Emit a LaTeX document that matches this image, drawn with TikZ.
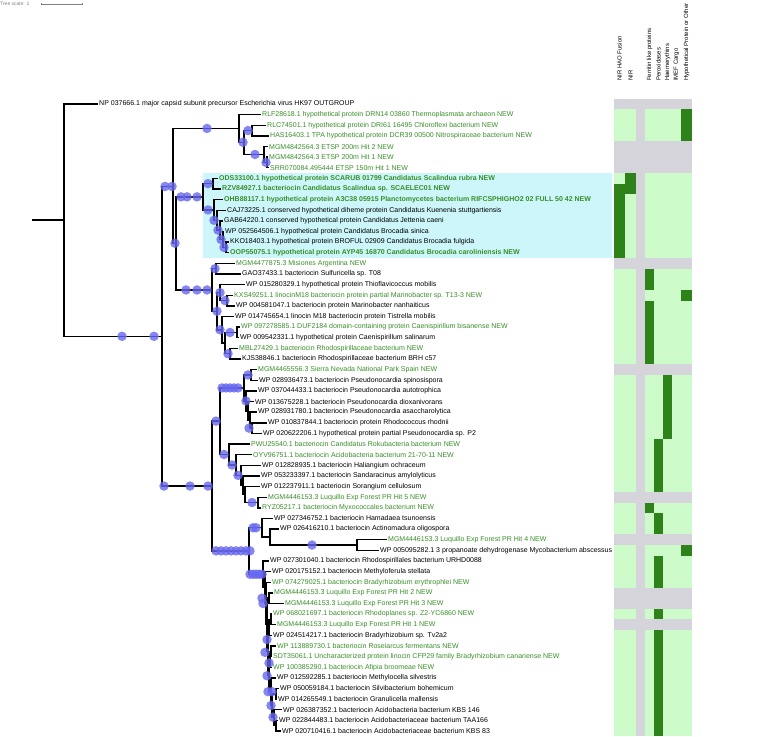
\documentclass[tikz,border=0pt]{standalone}
\usepackage{fontspec}
\setmainfont{Liberation Sans}
\definecolor{newgreen}{RGB}{56,142,40}
\definecolor{bootblue}{RGB}{104,104,240}
\definecolor{hilite}{RGB}{204,246,250}
\definecolor{cellon}{RGB}{45,130,25}
\definecolor{celloff}{RGB}{204,250,200}
\definecolor{cellnone}{RGB}{212,212,218}
\tikzset{
branch/.style={line width=1.4pt}, % tree edges
leaf/.style={anchor=west, inner sep=1pt, font=\fontsize{7}{8}\selectfont},
newseq/.style={leaf, text=newgreen}, % sequences new to this study
fusedseq/.style={newseq, font=\fontsize{7}{8}\selectfont\bfseries},
boot/.style={circle, fill=bootblue, fill opacity=.8, inner sep=0pt, minimum size=9.5pt},
colhead/.style={rotate=90, anchor=west, inner sep=0pt, font=\fontsize{6}{7}\selectfont},
}
\newcommand{\twig}[2]{\draw[branch] (#1) |- (#2);}

\begin{document}
\begin{tikzpicture}[x=1pt, y=-10.627pt]
\useasboundingbox (0,-9.786) rectangle (759,59.565);

% scale
\node[anchor=west, inner sep=0pt, text=gray, font=\fontsize{5}{6}\selectfont] (scaletxt) at (0,-9.41) {Tree scale: 1};
\coordinate (sbl) at (41,-9.41);
\coordinate (sbr) at (82,-9.41);
\draw[gray, thin] (sbl) -- (sbr);
\draw[gray, thin] (sbl) ++(0,-0.08) -- ++(0,0.16) (sbr) ++(0,-0.08) -- ++(0,0.16);

% highlighted clade
\fill[hilite] (203,6.5) rectangle (612,14.5);

% heatmap
\fill[celloff] (614,0.5) rectangle (692,59.5);
\foreach \r in {0,4,5,6,15,25,37,41,46,47,49}
  \fill[cellnone] (614,\r-0.5) rectangle (692,\r+0.5);
\fill[cellnone] (636,-0.5) rectangle (645,59.5);
\foreach \c/\w/\r in {681/11/1,681/11/2,681/11/3,681/11/18,681/11/42,
  625/11/7,625/11/8,614/11/8,614/11/9,614/11/10,614/11/11,614/11/12,614/11/13,614/11/14,
  645/9/16,645/9/17,645/9/19,645/9/20,645/9/21,645/9/22,645/9/23,645/9/24,645/9/38,
  663/9/26,663/9/27,663/9/28,663/9/29,663/9/30,663/9/31,
  654/9/32,654/9/33,654/9/34,654/9/35,654/9/36,654/9/39,654/9/40}
  \fill[cellon] (\c,\r-0.5) rectangle (\c+\w,\r+0.5);
\foreach \r in {43,44,45,48,50,51,52,53,54,55,56,57,58,59}
  \fill[cellon] (654,\r-0.5) rectangle (663,\r+0.5);
\node[colhead] (hfus) at (619.5,-2.16) {NIR HAO Fusion};
\node[colhead] (hnir) at (630.5,-2.16) {NIR};
\node[colhead] (hfer) at (649.5,-2.16) {Ferritin like proteins};
\node[colhead] (hper) at (658.5,-2.16) {Peroxidases};
\node[colhead] (hhae) at (667.5,-2.16) {Haemerythins};
\node[colhead] (himf) at (676.5,-2.16) {IMEF Cargo};
\node[colhead] (hhyp) at (686.5,-2.16) {Hypothetical Protein or Other};

% leaves
\node[leaf] (np) at (98,0) {NP 037666.1 major capsid subunit precursor Escherichia virus HK97 OUTGROUP};
\node[newseq] (rlf) at (261,1) {RLF28618.1 hypothetical protein DRN14 03860 Thermoplasmata archaeon NEW};
\node[newseq] (rlc) at (266,2) {RLC74501.1 hypothetical protein DRI61 16495 Chloroflexi bacterium NEW};
\node[newseq] (has) at (269,3) {HAS16403.1 TPA hypothetical protein DCR39 00500 Nitrospiraceae bacterium NEW};
\node[newseq] (etspa) at (268,4) {MGM4842564.3 ETSP 200m Hit 2 NEW};
\node[newseq] (etspb) at (268,5) {MGM4842564.3 ETSP 200m Hit 1 NEW};
\node[newseq] (srr) at (269,6) {SRR070084.495444 ETSP 150m Hit 1 NEW};
\node[fusedseq] (ods) at (218,7) {ODS33100.1 hypothetical protein SCARUB 01799 Candidatus Scalindua rubra NEW};
\node[fusedseq] (rzv) at (221,8) {RZV84927.1 bacteriocin Candidatus Scalindua sp. SCAELEC01 NEW};
\node[fusedseq] (ohb) at (223,9) {OHB88117.1 hypothetical protein A3C38 05915 Planctomycetes bacterium RIFCSPHIGHO2 02 FULL 50 42 NEW};
\node[leaf] (caj) at (226,10) {CAJ73225.1 conserved hypothetical diheme protein Candidatus Kuenenia stuttgartiensis};
\node[leaf] (gab) at (223,11) {GAB64220.1 conserved hypothetical protein Candidatus Jettenia caeni};
\node[leaf] (wpsin) at (224,12) {WP 052564506.1 hypothetical protein Candidatus Brocadia sinica};
\node[leaf] (kko) at (229,13) {KKO18403.1 hypothetical protein BROFUL 02909 Candidatus Brocadia fulgida};
\node[fusedseq] (oop) at (229,14) {OOP55075.1 hypothetical protein AYP45 16870 Candidatus Brocadia caroliniensis NEW};
\node[newseq] (misio) at (235,15) {MGM4477875.3 Misiones Argentina NEW};
\node[leaf] (gao) at (241,16) {GAO37433.1 bacteriocin Sulfuricella sp. T08};
\node[leaf] (thio) at (245,17) {WP 015280329.1 hypothetical protein Thioflavicoccus mobilis};
\node[newseq] (kxs) at (233,18) {KXS49251.1 linocinM18 bacteriocin protein partial Marinobacter sp. T13-3 NEW};
\node[leaf] (nanh) at (235,19) {WP 004581047.1 bacteriocin protein Marinobacter nanhaiticus};
\node[leaf] (tist) at (234,20) {WP 014745654.1 linocin M18 bacteriocin protein Tistrella mobilis};
\node[newseq] (bisan) at (240,21) {WP 097278585.1 DUF2184 domain-containing protein Caenispirillum bisanense NEW};
\node[leaf] (salin) at (239,22) {WP 009542331.1 hypothetical protein Caenispirillum salinarum};
\node[newseq] (mbl) at (238,23) {MBL27429.1 bacteriocin Rhodospirillaceae bacterium NEW};
\node[leaf] (kjs) at (241,24) {KJS38846.1 bacteriocin Rhodospirillaceae bacterium BRH c57};
\node[newseq] (sierra) at (257,25) {MGM4465556.3 Sierra Nevada National Park Spain NEW};
\node[leaf] (spino) at (258,26) {WP 028936473.1 bacteriocin Pseudonocardia spinosispora};
\node[leaf] (autot) at (257,27) {WP 037044433.1 bacteriocin Pseudonocardia autotrophica};
\node[leaf] (dioxa) at (254,28) {WP 013675228.1 bacteriocin Pseudonocardia dioxanivorans};
\node[leaf] (asacc) at (257,29) {WP 028931780.1 bacteriocin Pseudonocardia asaccharolytica};
\node[leaf] (rhodn) at (267,30) {WP 010837844.1 bacteriocin protein Rhodococcus rhodnii};
\node[leaf] (psp) at (262,31) {WP 020622206.1 hypothetical protein partial Pseudonocardia sp. P2};
\node[newseq] (pwu) at (250,32) {PWU25540.1 bacteriocin Candidatus Rokubacteria bacterium NEW};
\node[newseq] (oyv) at (252,33) {OYV96751.1 bacteriocin Acidobacteria bacterium 21-70-11 NEW};
\node[leaf] (halia) at (261,34) {WP 012828935.1 bacteriocin Haliangium ochraceum};
\node[leaf] (sanda) at (260,35) {WP 053233397.1 bacteriocin Sandaracinus amylolyticus};
\node[leaf] (soran) at (260,36) {WP 012237911.1 bacteriocin Sorangium cellulosum};
\node[newseq] (luqv) at (267,37) {MGM4446153.3 Luquillo Exp Forest PR Hit 5 NEW};
\node[newseq] (ryz) at (261,38) {RYZ05217.1 bacteriocin Myxococcales bacterium NEW};
\node[leaf] (hamad) at (273,39) {WP 027346752.1 bacteriocin Hamadaea tsunoensis};
\node[leaf] (actin) at (279,40) {WP 026416210.1 bacteriocin Actinomadura oligospora};
\node[newseq] (luqiv) at (387,41) {MGM4446153.3 Luquillo Exp Forest PR Hit 4 NEW};
\node[leaf] (mycob) at (379,42) {WP 005095282.1 3 propanoate dehydrogenase Mycobacterium abscessus};
\node[leaf] (urhd) at (269,43) {WP 027301040.1 bacteriocin Rhodospirillales bacterium URHD0088};
\node[leaf] (methf) at (271,44) {WP 020175152.1 bacteriocin Methyloferula stellata};
\node[newseq] (eryth) at (271,45) {WP 074279025.1 bacteriocin Bradyrhizobium erythrophlei NEW};
\node[newseq] (luqii) at (273,46) {MGM4446153.3 Luquillo Exp Forest PR Hit 2 NEW};
\node[newseq] (luqiii) at (284,47) {MGM4446153.3 Luquillo Exp Forest PR Hit 3 NEW};
\node[newseq] (rhodo) at (272,48) {WP 068021697.1 bacteriocin Rhodoplanes sp. Z2-YC6860 NEW};
\node[newseq] (luqi) at (276,49) {MGM4446153.3 Luquillo Exp Forest PR Hit 1 NEW};
\node[leaf] (tvaa) at (272,50) {WP 024514217.1 bacteriocin Bradyrhizobium sp. Tv2a2};
\node[newseq] (rosei) at (276,51) {WP 113889730.1 bacteriocin Roseiarcus fermentans NEW};
\node[newseq] (sdt) at (272,52) {SDT35061.1 Uncharacterized protein linocin CFP29 family Bradyrhizobium canariense NEW};
\node[newseq] (afipia) at (272,53) {WP 100385290.1 bacteriocin Afipia broomeae NEW};
\node[leaf] (msilv) at (276,54) {WP 012592285.1 bacteriocin Methylocella silvestris};
\node[leaf] (silvi) at (279,55) {WP 050059184.1 bacteriocin Silvibacterium bohemicum};
\node[leaf] (granu) at (277,56) {WP 014265549.1 bacteriocin Granulicella mallensis};
\node[leaf] (kbsa) at (282,57) {WP 026387352.1 bacteriocin Acidobacteria bacterium KBS 146};
\node[leaf] (taa) at (278,58) {WP 022844483.1 bacteriocin Acidobacteriaceae bacterium TAA166};
\node[leaf] (kbsb) at (281,59) {WP 020710416.1 bacteriocin Acidobacteriaceae bacterium KBS 83};

% internal nodes
\coordinate (stub) at (32,10.93);
\coordinate (root) at (64,10.93);
\coordinate (n1) at (162,21.86);
\coordinate (g) at (173,7.76);
\coordinate (g2) at (176,13.1);
\coordinate (a) at (239,2.3);
\coordinate (b) at (244,3.6);
\coordinate (c) at (252,2.5);
\coordinate (d) at (264,4.75);
\coordinate (e) at (267,5.5);
\coordinate (s) at (203,8.74);
\coordinate (s1) at (213,7.5);
\coordinate (s2) at (214,9.97);
\coordinate (s3) at (217,10.94);
\coordinate (s4) at (220,11.875);
\coordinate (s5) at (223,12.75);
\coordinate (s6) at (226,13.5);
\coordinate (t) at (212,17.5);
\coordinate (t1) at (216,15.5);
\coordinate (t6) at (217,19.5);
\coordinate (t2) at (220,17.75);
\coordinate (t3) at (227,18.5);
\coordinate (t4) at (222,21.25);
\coordinate (t5) at (225,22.5);
\coordinate (t7) at (237,21.5);
\coordinate (t8) at (230,23.5);
\coordinate (u) at (212,35.95);
\coordinate (ua) at (220,29.84);
\coordinate (ua1) at (244,26.72);
\coordinate (u1) at (251,25.5);
\coordinate (u2) at (246,27.94);
\coordinate (u2b) at (248,28.875);
\coordinate (u2c) at (250,29.75);
\coordinate (u2d) at (252,30.5);
\coordinate (ua2) at (229,32.98);
\coordinate (ua3) at (236,33.97);
\coordinate (ua4) at (241,34.94);
\coordinate (ua5) at (243,35.88);
\coordinate (ua6) at (245,36.75);
\coordinate (ua7) at (258,37.5);
\coordinate (ub) at (249,42.05);
\coordinate (ub1) at (262,39.875);
\coordinate (ub1b) at (270,40.75);
\coordinate (ub1c) at (357,41.5);
\coordinate (ub2) at (263,44.25);
\coordinate (y1) at (265,45.5);
\coordinate (y2) at (266,47);
\coordinate (y3) at (267,49);
\coordinate (y3a) at (269,46.5);
\coordinate (y4) at (268,51.5);
\coordinate (y4a) at (269,49.25);
\coordinate (y4c) at (271,48.5);
\coordinate (y4b) at (269,53.75);
\coordinate (zc) at (270,52.25);
\coordinate (zd) at (271,51.5);
\coordinate (y4d) at (271,55.3);
\coordinate (y4e) at (272,56.6);
\coordinate (y4f) at (276,55.5);
\coordinate (y4g) at (274,57.75);
\coordinate (y4h) at (276,58.5);

% edges
\draw[branch] (stub) -- (root);
\foreach \p/\q in {root/np.west,root/n1,n1/g,n1/u,g/a,g/g2,g2/s,g2/t,
  a/rlf.west,a/b,b/c,b/d,c/rlc.west,c/has.west,d/etspa.west,d/e,e/etspb.west,e/srr.west,
  s/s1,s/s2,s1/ods.west,s1/rzv.west,s2/ohb.west,s2/s3,s3/caj.west,s3/s4,s4/gab.west,s4/s5,
  s5/wpsin.west,s5/s6,s6/kko.west,s6/oop.west,
  t/t1,t/t6,t1/misio.west,t1/gao.west,t6/t2,t6/t4,t2/thio.west,t2/t3,
  t3/kxs.west,t3/nanh.west,t4/tist.west,t4/t5,t5/t7,t5/t8,t7/bisan.west,t7/salin.west,
  t8/mbl.west,t8/kjs.west,
  u/ua,u/ub,ua/ua1,ua/ua2,ua1/u1,ua1/u2,u1/sierra.west,u1/spino.west,u2/autot.west,u2/u2b,
  u2b/dioxa.west,u2b/u2c,u2c/asacc.west,u2c/u2d,u2d/rhodn.west,u2d/psp.west,
  ua2/pwu.west,ua2/ua3,ua3/oyv.west,ua3/ua4,ua4/halia.west,ua4/ua5,ua5/sanda.west,ua5/ua6,
  ua6/soran.west,ua6/ua7,ua7/luqv.west,ua7/ryz.west,
  ub/ub1,ub/ub2,ub1/hamad.west,ub1/ub1b,ub1b/actin.west,ub1b/ub1c,ub1c/luqiv.west,ub1c/mycob.west,
  ub2/urhd.west,ub2/y1,y1/methf.west,y1/y2,y2/eryth.west,y2/y3,y3/y3a,y3/y4,
  y3a/luqii.west,y3a/luqiii.west,y4/y4a,y4/y4b,y4a/y4c,y4a/tvaa.west,y4c/rhodo.west,y4c/luqi.west,
  y4b/zc,y4b/y4d,zc/zd,zc/afipia.west,zd/rosei.west,zd/sdt.west,
  y4d/msilv.west,y4d/y4e,y4e/y4f,y4e/y4g,y4f/silvi.west,y4f/granu.west,
  y4g/kbsa.west,y4g/y4h,y4h/taa.west,y4h/kbsb.west}
  {\twig{\p}{\q}}

% support values
\foreach \x/\r in {122/21.86,154/21.86,165/7.76,172/7.76,175/13.1,
  207/2.3,248/2.5,243/3.6,255/4.75,266/5.5,
  181/8.74,187/8.74,197/8.74,208/7.5,208/9.97,214/10.94,218/11.875,221/12.75,224/13.5,
  186/17.5,197/17.5,207/17.5,215/15.5,217/19.5,220/17.75,225/18.5,220/21.25,230/21.5,228/23.5,
  164/35.95,190/35.95,208/35.95,216/29.84,
  222/26.72,226/26.72,230/26.72,234/26.72,238/26.72,248/25.5,246/27.94,249/30.5,
  224/32.98,232/33.97,238/34.94,252/37.5,
  216/42.05,221/42.05,226/42.05,231/42.05,236/42.05,241/42.05,246/42.05,250/42.05,
  253/39.875,256/39.875,312/41.5,
  250/44.25,253/44.25,256/44.25,259/44.25,262/44.25,
  262/46.5,263/47,267/50.4,265/51.6,269/52.6,267/53.8,268/55.3,272/55.3,271/56.6,273/57.7}
  \node[boot] at (\x,\r) {};
\end{tikzpicture}
\end{document}
